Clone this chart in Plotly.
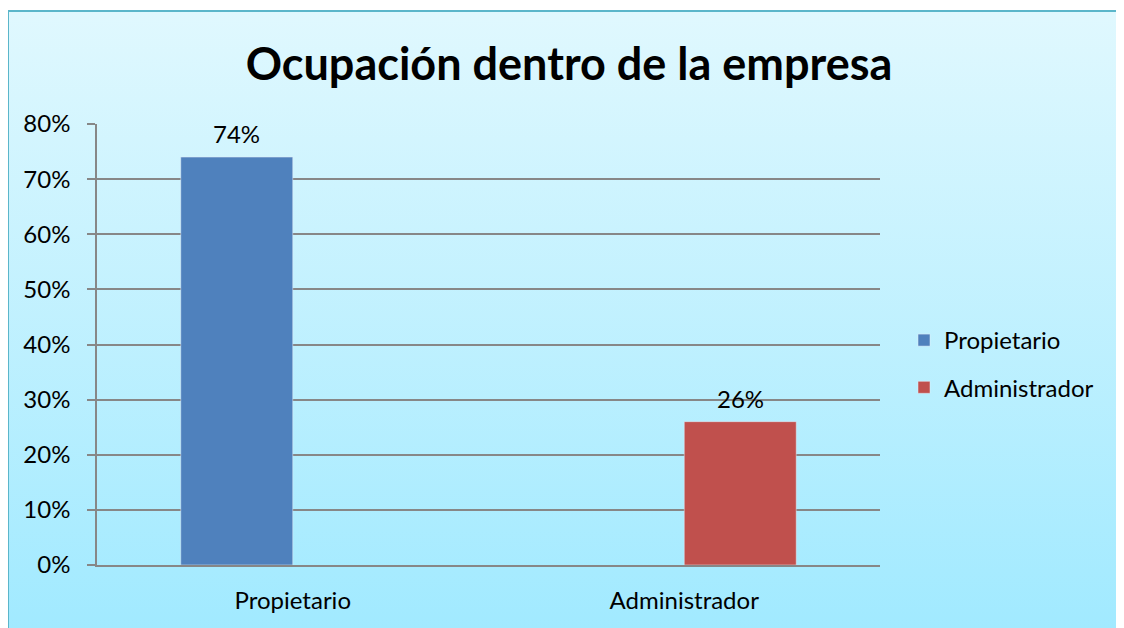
import base64

import plotly.graph_objects as go

categories = ["Propietario", "Administrador"]
propietario = [0.74, None]
administrador = [None, 0.26]
y_ticks = [0, 0.1, 0.2, 0.3, 0.4, 0.5, 0.6, 0.7, 0.8]

# the page body has an 8px margin, so screen coords are shifted by OFF
OFF = 8
W, H = 1124, 628
L, R, T, B = 97 - OFF, W - (880 - OFF), 124 - OFF, H - (565 - OFF)
pw, ph = W - L - R, H - T - B

FONT = "Lato, 'Open Sans', sans-serif"
GRID = "#878787"
BAR_GAP = 0.428

svg = (
    '<svg xmlns="http://www.w3.org/2000/svg" width="100" height="100" preserveAspectRatio="none">'
    '<defs><linearGradient id="g" x1="0" y1="0" x2="0" y2="1">'
    '<stop offset="0" stop-color="#e0f8fe"/><stop offset="1" stop-color="#9ee9ff"/>'
    '</linearGradient></defs><rect width="100" height="100" fill="url(#g)"/></svg>'
)
bg_src = "data:image/svg+xml;base64," + base64.b64encode(svg.encode()).decode()


def px_x(x):
    # screen px -> paper x
    return (x - OFF - L) / pw


def px_y(y):
    # screen px -> paper y
    return 1 + (T - (y - OFF)) / ph


fig = go.Figure()
fig.add_trace(go.Bar(
    x=categories, y=propietario, name="Propietario", legendgroup="a",
    marker_color="#4f81bd",
))
fig.add_trace(go.Bar(
    x=categories, y=administrador, name="Administrador", legendgroup="b",
    marker_color="#c0504d",
))

# data labels, placed over the middle of each group slot
slot = (1 - BAR_GAP) / 4
labels = []
for i, (cat, vals) in enumerate(zip(categories, zip(propietario, administrador))):
    for j, v in enumerate(vals):
        if v is None:
            continue
        labels.append(dict(
            x=cat, y=v, xshift=(j * 2 - 1) * slot * pw / len(categories),
            text=f"{v:.0%}", showarrow=False, yanchor="bottom", yshift=7,
            font=dict(size=24, color="#000"),
        ))

fig.update_layout(
    width=W, height=H,
    margin=dict(l=L, r=R, t=T, b=B, pad=0),
    paper_bgcolor="white",
    plot_bgcolor="white",
    font=dict(family=FONT, size=24, color="#000"),
    barmode="group", bargap=BAR_GAP, bargroupgap=0,
    title=dict(text="<b>Ocupación dentro de la empresa</b>", x=(569 - OFF) / W, xanchor="center",
               y=1 - (64 - OFF) / H, yanchor="middle", font=dict(size=45, color="#000")),
    legend=dict(x=px_x(904), y=px_y(318), xanchor="left", yanchor="top",
                bgcolor="rgba(0,0,0,0)", font=dict(size=24), tracegroupgap=13),
    showlegend=True,
    annotations=labels,
    images=[dict(source=bg_src, xref="paper", yref="paper",
                 x=px_x(8), y=px_y(11), sizex=(W + 20) / pw, sizey=(H + 20) / ph,
                 xanchor="left", yanchor="top", sizing="stretch", layer="below")],
    shapes=[dict(type="rect", xref="paper", yref="paper",
                 x0=px_x(8), y0=px_y(H + 20), x1=px_x(W + 20), y1=px_y(11),
                 line=dict(color="#5bb6ca", width=2), layer="below")],
)
fig.update_yaxes(range=[0, 0.8], tickvals=y_ticks, tickformat=".0%",
                 showgrid=True, gridcolor=GRID, gridwidth=1.5,
                 showline=True, linecolor=GRID, linewidth=1.5,
                 ticks="outside", ticklen=8, tickcolor=GRID, tickwidth=1.5,
                 ticklabelstandoff=12, zeroline=False, tickfont=dict(size=24))
fig.update_xaxes(showline=True, linecolor=GRID, linewidth=1.5, ticks="",
                 ticklabelstandoff=13, tickfont=dict(size=24))

fig.write_html("out.html")
